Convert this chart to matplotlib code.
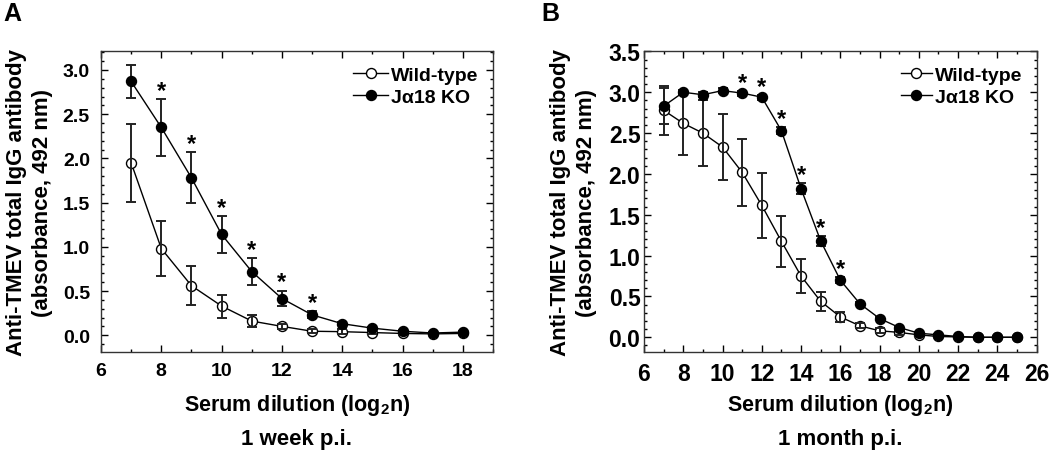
import matplotlib
matplotlib.use("Agg")
import matplotlib.pyplot as plt
from matplotlib.ticker import MultipleLocator, FormatStrFormatter
import numpy as np

plt.rcParams['font.family'] = ['Liberation Sans', 'DejaVu Sans']
plt.rcParams['font.weight'] = 'bold'
plt.rcParams['mathtext.fontset'] = 'custom'
plt.rcParams['mathtext.rm'] = 'Liberation Sans:bold'
plt.rcParams['mathtext.bf'] = 'Liberation Sans:bold'
plt.rcParams['mathtext.it'] = 'Liberation Sans:bold'

# ---------------- data ----------------
dil_a = [7, 8, 9, 10, 11, 12, 13, 14, 15, 16, 17, 18]
ko_a = [2.87, 2.35, 1.78, 1.14, 0.72, 0.415, 0.23, 0.13, 0.08, 0.045, 0.025, 0.035]
ko_a_err = [0.19, 0.32, 0.29, 0.21, 0.155, 0.09, 0.04, 0.02, 0.015, 0.01, 0.01, 0.01]
wt_a = [1.95, 0.98, 0.56, 0.33, 0.16, 0.10, 0.045, 0.04, 0.03, 0.02, 0.015, 0.02]
wt_a_err = [0.44, 0.31, 0.22, 0.13, 0.065, 0.03, 0.025, 0.025, 0.02, 0.02, 0.015, 0.015]
sig_a = [8, 9, 10, 11, 12, 13]
xticks_a = [6, 8, 10, 12, 14, 16, 18]

dil_b = [7, 8, 9, 10, 11, 12, 13, 14, 15, 16, 17, 18, 19, 20, 21, 22, 23, 24, 25]
ko_b = [2.83, 3.00, 2.97, 3.02, 2.99, 2.94, 2.53, 1.82, 1.18, 0.70, 0.41, 0.23,
        0.12, 0.05, 0.03, 0.01, 0.0, 0.0, 0.0]
ko_b_err = [0.22, 0.03, 0.03, 0.03, 0.03, 0.03, 0.04, 0.07, 0.06, 0.04, 0.02, 0.02,
            0.01, 0.01, 0.01, 0.01, 0.01, 0.01, 0.01]
wt_b = [2.78, 2.62, 2.50, 2.33, 2.02, 1.615, 1.175, 0.75, 0.44, 0.25, 0.14, 0.08,
        0.06, 0.03, 0.01, 0.005, 0.0, 0.0, 0.0]
wt_b_err = [0.30, 0.39, 0.40, 0.40, 0.41, 0.40, 0.31, 0.21, 0.12, 0.06, 0.03, 0.03,
            0.03, 0.01, 0.01, 0.01, 0.01, 0.01, 0.01]
sig_b = [11, 12, 13, 14, 15, 16]
xticks_b = [6, 8, 10, 12, 14, 16, 18, 20, 22, 24, 26]

labels = ["Wild-type", "J\u03b118 KO"]
ylabel = "Anti-TMEV total IgG antibody\n(absorbance, 492 nm)"
xlabel = "Serum dilution " + r"$\mathregular{(log_{2}n)}$"

fig = plt.figure(figsize=(10.5, 4.52), dpi=100)
ax_a = fig.add_axes([0.0962, 0.219, 0.3733, 0.665])
ax_b = fig.add_axes([0.6133, 0.219, 0.3740, 0.665])


def draw(ax, x, wt, wte, ko, koe, sig, xlim, ylim, xticks, ymax_tick, sub,
         tsize, ypad, hlen):
    ax.plot(x, wt, '-', color='black', lw=1.0, marker='o', ms=7.2,
            mfc='white', mec='black', mew=1.0, zorder=3, label=labels[0])
    ax.errorbar(x, wt, yerr=wte, fmt='none', ecolor='#222222', elinewidth=1.4,
                capsize=3.5, capthick=1.4, zorder=4)
    ax.errorbar(x, ko, yerr=koe, fmt='none', ecolor='#222222', elinewidth=1.4,
                capsize=3.5, capthick=1.4, zorder=5)
    ax.plot(x, ko, '-', color='black', lw=1.0, marker='o', ms=7.2,
            mfc='black', mec='black', mew=1.0, zorder=6, label=labels[1])
    for xi in sig:
        i = x.index(xi)
        ax.annotate('*', xy=(xi, ko[i] + koe[i]), xytext=(0, 1.5),
                    textcoords='offset points', ha='center', va='baseline',
                    fontsize=17, fontweight='bold')
    ax.set_xlim(*xlim)
    ax.set_ylim(*ylim)
    ax.set_xticks(xticks)
    ax.xaxis.set_minor_locator(MultipleLocator(1))
    ax.set_yticks(np.arange(0, ymax_tick + 0.01, 0.5))
    ax.yaxis.set_minor_locator(MultipleLocator(0.1))
    ax.yaxis.set_major_formatter(FormatStrFormatter('%.1f'))
    ax.tick_params(which='both', direction='in', top=True, right=True,
                   labelsize=tsize, width=1.0)
    ax.tick_params(which='major', length=5)
    ax.tick_params(which='minor', length=2.5)
    ax.tick_params(axis='x', pad=7)
    ax.tick_params(axis='y', pad=ypad)
    for s in ax.spines.values():
        s.set_linewidth(1.0)
        s.set_color('#333333')
    ax.set_ylabel(ylabel, fontsize=16, fontweight='bold', linespacing=1.3)
    ax.text(0.5, -0.173, xlabel, transform=ax.transAxes, ha='center',
            va='center', fontsize=15.5, fontweight='bold')
    ax.text(0.5, -0.289, sub, transform=ax.transAxes, ha='center',
            va='center', fontsize=16, fontweight='bold')
    ax.legend(loc='upper right', frameon=False, handlelength=hlen,
              handletextpad=0.15, labelspacing=0.25, borderaxespad=0.35,
              prop={'weight': 'bold', 'size': 14})


draw(ax_a, dil_a, wt_a, wt_a_err, ko_a, ko_a_err, sig_a, (6, 19), (-0.19, 3.21),
     xticks_a, 3.0, "1 week p.i.", 14, 8, 1.8)
draw(ax_b, dil_b, wt_b, wt_b_err, ko_b, ko_b_err, sig_b, (6, 26), (-0.18, 3.5),
     xticks_b, 3.5, "1 month p.i.", 16.5, 2.5, 1.6)
ax_a.yaxis.set_label_coords(-0.122, 0.5)
ax_b.yaxis.set_label_coords(-0.120, 0.5)

fig.text(0.003, 0.995, "A", fontsize=18, fontweight='bold', va='top', ha='left')
fig.text(0.516, 0.995, "B", fontsize=18, fontweight='bold', va='top', ha='left')

fig.savefig("out.png", dpi=100, facecolor='white')
